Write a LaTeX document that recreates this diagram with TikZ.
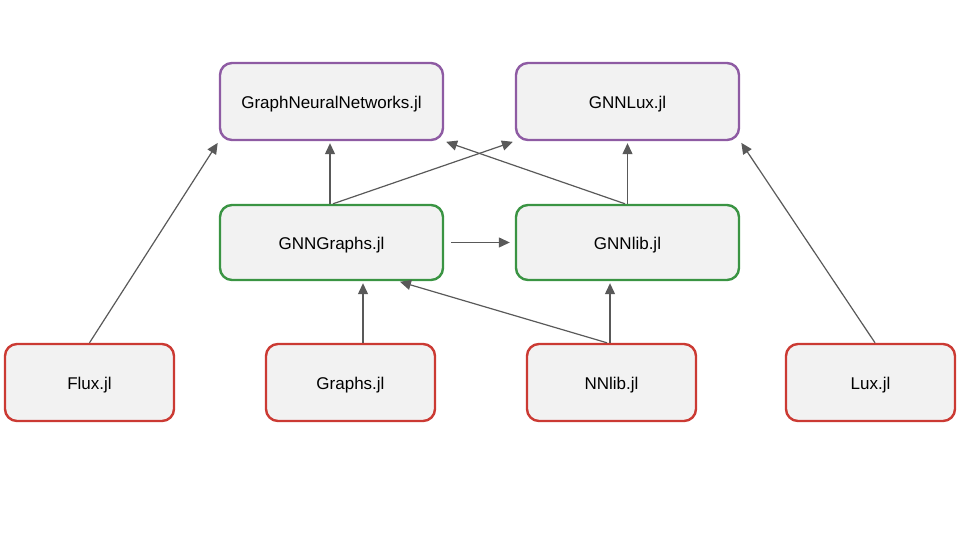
\documentclass[tikz,border=0pt]{standalone}
\usepackage{fontspec}
\setmainfont{Liberation Sans}
\usetikzlibrary{arrows.meta}
\definecolor{boxfill}{HTML}{F2F2F2}
\definecolor{pkgpurple}{HTML}{8E5BA3}
\definecolor{pkggreen}{HTML}{3A9443}
\definecolor{pkgred}{HTML}{CB3A33}
\definecolor{arrowgray}{HTML}{595959}

\begin{document}
\begin{tikzpicture}[x=1pt,y=1pt,>={Triangle[length=11pt,width=10pt]},
  pkg/.style={draw=#1,fill=boxfill,line width=2.4pt,rounded corners=12pt,
    minimum width=223pt,minimum height=77pt,inner sep=0pt,text=black,
    text height=15pt,text depth=0pt,
    font=\fontsize{17}{20}\selectfont},
  dep/.style={->,arrowgray,line width=1.2pt,shorten >=2pt}]
\useasboundingbox (0,0) rectangle (960,540);
\node[pkg=pkgpurple] (gnn) at (331.5,438.5) {GraphNeuralNetworks.jl};
\node[pkg=pkgpurple] (gnnlux) at (627.5,438.5) {GNNLux.jl};
\node[pkg=pkggreen,minimum height=75pt] (gnngraphs) at (331.5,297.5) {GNNGraphs.jl};
\node[pkg=pkggreen,minimum height=75pt] (gnnlib) at (627.5,297.5) {GNNlib.jl};
\node[pkg=pkgred,minimum width=169pt] (flux) at (89.5,157.5) {Flux.jl};
\node[pkg=pkgred,minimum width=169pt] (graphs) at (350.5,157.5) {Graphs.jl};
\node[pkg=pkgred,minimum width=169pt] (nnlib) at (611.5,157.5) {NNlib.jl};
\node[pkg=pkgred,minimum width=169pt] (lux) at (870.5,157.5) {Lux.jl};
\draw[dep] (flux.north) -- (gnn.south west);
\draw[dep] ([xshift=-1.5pt]gnngraphs.north) -- ([xshift=-1.5pt]gnn.south);
\draw[dep] ([xshift=1.5pt]gnngraphs.north) -- (gnnlux.south west);
\draw[dep] (gnnlib.north) -- (gnnlux.south);
\draw[dep] ([xshift=-2.5pt]gnnlib.north) -- (gnn.south east);
\draw[dep,shorten <=7pt,shorten >=5pt] (gnngraphs) -- (gnnlib);
\draw[dep] ([xshift=12.5pt]graphs.north) -- ([xshift=31.5pt]gnngraphs.south);
\draw[dep] ([xshift=-4.5pt]nnlib.north) -- ([xshift=66.5pt]gnngraphs.south);
\draw[dep] ([xshift=-1.5pt]nnlib.north) -- ([xshift=-17.5pt]gnnlib.south);
\draw[dep] ([xshift=4.5pt]lux.north) -- (gnnlux.south east);
\end{tikzpicture}
\end{document}
